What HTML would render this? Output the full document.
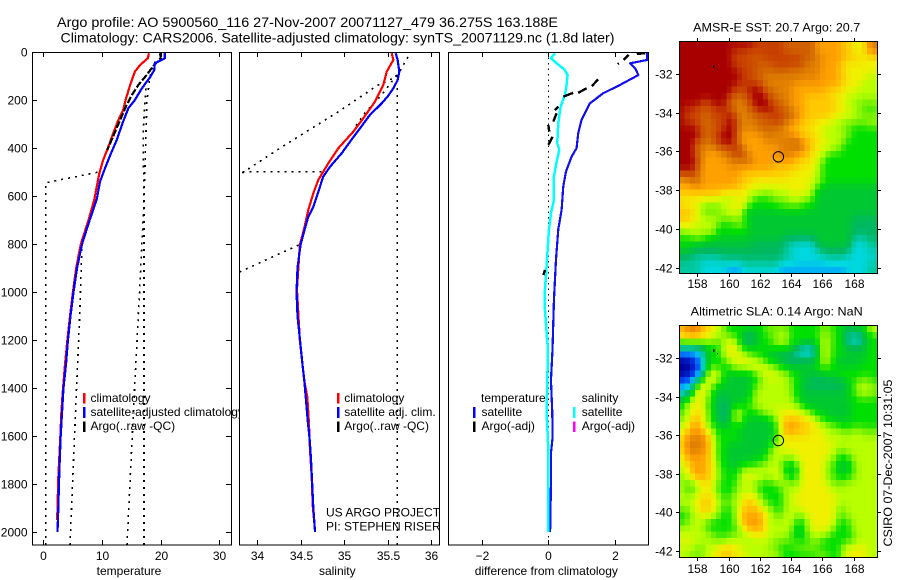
<!DOCTYPE html>
<html>
<head>
<meta charset="utf-8">
<title>Argo profile</title>
<style>
html,body{margin:0;padding:0;background:#fff;}
svg{display:block;}
text{font-family:"Liberation Sans",sans-serif;font-size:12px;fill:#000;}
.title{font-size:14px;}
</style>
</head>
<body>
<svg id="chart" xmlns="http://www.w3.org/2000/svg" width="900" height="580" viewBox="0 0 900 580">
<defs>
<clipPath id="clip-temp"><rect x="32" y="52" width="199.5" height="493"/></clipPath>
<clipPath id="clip-sal"><rect x="239.5" y="52" width="200.5" height="493"/></clipPath>
<clipPath id="clip-diff"><rect x="448.5" y="52" width="200" height="493"/></clipPath>
<clipPath id="clip-legend"><rect x="32" y="380" width="207" height="60"/></clipPath>
</defs>
<rect x="0" y="0" width="900" height="580" fill="#fff"/>
<text class="title" x="57" y="27" textLength="501" lengthAdjust="spacingAndGlyphs">Argo profile: AO 5900560_116 27-Nov-2007 20071127_479 36.275S 163.188E</text>
<text class="title" x="60.5" y="42.5" textLength="554" lengthAdjust="spacingAndGlyphs">Climatology: CARS2006. Satellite-adjusted climatology: synTS_20071129.nc (1.8d later)</text>
<g id="layer-temp" clip-path="url(#clip-temp)" shape-rendering="crispEdges"></g>
<g id="layer-sal" clip-path="url(#clip-sal)" shape-rendering="crispEdges"></g>
<g id="layer-diff" clip-path="url(#clip-diff)" shape-rendering="crispEdges"></g>
<g id="layer-sst" shape-rendering="crispEdges"></g>
<g id="layer-sla" shape-rendering="crispEdges"></g>
<g id="layer-axes" shape-rendering="crispEdges"></g>
<g id="layer-ticklabels"></g>

<rect x="32.5" y="52.5" width="199" height="492.5" fill="none" stroke="#000" shape-rendering="crispEdges"/>
<rect x="239.5" y="52.5" width="200" height="492.5" fill="none" stroke="#000" shape-rendering="crispEdges"/>
<rect x="448.5" y="52.5" width="200" height="492.5" fill="none" stroke="#000" shape-rendering="crispEdges"/>
<rect x="679.5" y="41.5" width="198" height="232" fill="none" stroke="#000" shape-rendering="crispEdges"/>
<rect x="679.5" y="325.5" width="198" height="232" fill="none" stroke="#000" shape-rendering="crispEdges"/>

<text x="129" y="575" text-anchor="middle">temperature</text>
<text x="337.3" y="575" text-anchor="middle">salinity</text>
<text x="546.3" y="575" text-anchor="middle">difference from climatology</text>

<g>
<rect x="83" y="393" width="2.5" height="10.5" fill="#f00"/>
<rect x="83" y="407" width="2.5" height="11" fill="#00f"/>
<rect x="83" y="421.5" width="2.5" height="10.5" fill="#000"/>
<g clip-path="url(#clip-legend)">
<text x="90.5" y="402">climatology</text>
<text x="90.5" y="416">satellite-adjusted climatology</text>
<text x="90.5" y="430">Argo(..raw -QC)</text>
</g>
</g>
<g>
<rect x="337" y="393" width="2.5" height="10.5" fill="#f00"/>
<rect x="337" y="407" width="2.5" height="11" fill="#00f"/>
<rect x="337" y="421.5" width="2.5" height="10.5" fill="#000"/>
<text x="344.3" y="402">climatology</text>
<text x="344.3" y="416">satellite adj. clim.</text>
<text x="344.3" y="430">Argo(..raw -QC)</text>
<text x="326" y="516.5">US ARGO PROJECT</text>
<text x="326" y="530.5">PI: STEPHEN RISER</text>
</g>
<g>
<text x="481" y="402">temperature</text>
<rect x="473" y="407" width="2.5" height="11" fill="#00f"/>
<text x="481.5" y="416">satellite</text>
<rect x="473" y="421.5" width="2.5" height="10.5" fill="#000"/>
<text x="481.5" y="430">Argo(-adj)</text>
<text x="581.7" y="402">salinity</text>
<rect x="573" y="407" width="2.5" height="11" fill="#0ff"/>
<text x="581.7" y="416">satellite</text>
<rect x="573" y="421.5" width="2.5" height="10.5" fill="#f0f"/>
<text x="581.7" y="430">Argo(-adj)</text>
</g>

<text x="776.7" y="31.5" text-anchor="middle" textLength="167" lengthAdjust="spacingAndGlyphs">AMSR-E SST: 20.7  Argo: 20.7</text>
<text x="776.7" y="315.5" text-anchor="middle" textLength="172" lengthAdjust="spacingAndGlyphs">Altimetric SLA: 0.14  Argo: NaN</text>
<text transform="translate(892,546.5) rotate(-90)" textLength="167" lengthAdjust="spacingAndGlyphs">CSIRO 07-Dec-2007 10:31:05</text>
<g id="layer-markers"></g>
</svg>

<script>
/* ---------- depth axis ---------- */
const depthTicks = [0,200,400,600,800,1000,1200,1400,1600,1800,2000];
const tempTicks = [0,10,20,30];
const salTicks = [34,34.5,35,35.5,36];
const diffTicks = [-2,0,2];
const lonTicks = [158,160,162,164,166,168];
const latTicks = [32,34,36,38,40,42];

/* ---------- temperature panel ---------- */
const tempClimDepth = [5,26,54,82,137,193,242,283,339,394,450,505,561,614,700,800,900,1000,1100,1200,1300,1436,1505,1603,1686,1770,1922,1950];
const tempClimValue = [18.0,17.8,16.5,15.6,14.8,14.1,13.6,12.8,11.9,11.1,10.2,9.55,9.1,8.7,7.7,6.4,5.6,5.05,4.55,4.1,3.7,3.25,3.07,2.9,2.73,2.56,2.39,2.36];
const tempSatDepth = [5,26,47,75,105,151,200,234,290,367,430,485,540,614,700,800,900,1000,1100,1200,1300,1400,1500,1600,1700,1800,1900,2000];
const tempSatValue = [20.7,20.7,19.0,18.9,18.2,16.8,15.6,14.5,13.6,12.5,11.4,10.5,9.66,9.1,7.9,6.6,5.75,5.15,4.63,4.2,3.87,3.44,3.2,2.96,2.8,2.67,2.56,2.42];
const tempArgoDepth = [5,26,54,105,137,179,220,317,380,408,null,950,1000];
const tempArgoValue = [19.9,20.0,18.9,17.3,16.2,15.1,14.2,12.5,11.4,10.9,null,5.4,5.1];
const tempEnvMinOuterDepth = [2054,545,499];
const tempEnvMinOuterValue = [0.4,0.4,9.66];
const tempEnvMinInnerDepth = [2054,1383,1100,800];
const tempEnvMinInnerValue = [4.55,5.69,6.2,6.6];
const tempEnvMaxInnerDepth = [2054,1367,1000,620,330,150];
const tempEnvMaxInnerValue = [14.26,15.62,16.4,17.15,17.0,17.5];
const tempEnvMaxOuterDepth = [2054,620,330,200,100,40];
const tempEnvMaxOuterValue = [17.15,17.15,17.5,17.67,18.2,19.0];

/* ---------- salinity panel ---------- */
const salClimDepth = [5,33,82,137,207,276,332,401,464,533,589,658,739,804,990,1200,1367,1437,1546,1658,1770,1887,1962];
const salClimValue = [35.548,35.567,35.491,35.452,35.356,35.221,35.106,34.933,34.818,34.703,34.645,34.588,34.538,34.49,34.457,34.49,34.54,34.576,34.595,34.607,34.627,34.638,34.657];
const salSatDepth = [5,33,82,117,151,182,214,262,318,374,422,478,519,582,645,686,739,804,900,1000,1100,1200,1300,1367,1450,1533,1617,1700,1783,1896,2000];
const salSatValue = [35.594,35.617,35.636,35.617,35.567,35.509,35.433,35.298,35.183,35.068,34.972,34.838,34.76,34.703,34.645,34.588,34.546,34.498,34.463,34.452,34.463,34.492,34.52,34.541,34.561,34.58,34.604,34.619,34.63,34.645,34.665];
const salEnvFlatDepth = [499,499];
const salEnvFlatValue = [33.827,34.745];
const salEnvDiagDepth = [504,401,249,137,103,5];
const salEnvDiagValue = [33.827,34.26,34.933,35.394,35.606,35.76];
const salEnvRightDepth = [2054,150];
const salEnvRightValue = [35.61,35.61];
const salEnvInnerDepth = [96,179,254,312];
const salEnvInnerValue = [35.606,35.433,35.241,35.126];
const salEnvLowerDepth = [917,796];
const salEnvLowerValue = [33.795,34.526];

/* ---------- difference panel ---------- */
const diffTempDepth = [5,33,47,68,96,137,172,214,242,283,339,401,436,499,561,658,739,867,1033,1242,1367,1504,1604,1671,1783,1979,2000];
const diffTempValue = [2.96,2.98,2.46,2.61,2.71,2.16,1.65,1.25,1.15,1.0,0.9,0.85,0.7,0.53,0.45,0.40,0.30,0.23,0.17,0.126,0.08,0.12,0.13,0.08,0.08,0.06,0.05];
const diffSalDepth = [5,26,47,75,96,137,179,228,297,380,408,457,519,617,672,739,867,992,1075,1242,1367,1504,1650,2000];
const diffSalValue = [0.2,0.08,0.25,0.5,0.58,0.55,0.5,0.37,0.3,0.27,0.33,0.25,0.17,0.17,0.08,0.02,-0.04,-0.1,-0.1,-0.01,-0.03,-0.05,0,0];
const diffArgoDepth = [5,8,null,12,33,null,47,50,null,114,142,null,151,170,null,170,186,null,228,242,null,255,290,null,304,332,null,353,387,null,908,929];
const diffArgoValue = [2.91,2.66,null,2.41,2.26,null,2.12,2.09,null,1.5,1.31,null,1.15,0.9,null,0.75,0.45,null,0.3,0.2,null,0.25,0.15,null,0,0.03,null,0.13,0,null,-0.1,-0.15];
const diffZeroDepth = [0,2054];
const diffZeroValue = [0,0];

/* ---------- map data: each row is level,count,level,count... ---------- */
const sstRuns = [
[16,14,15,6,14,6,12,5,11,2,10,3,13,2],
[16,10,15,10,14,6,12,5,11,2,10,3,13,2],
[16,10,15,3,14,3,15,7,14,3,13,2,12,4,11,3,10,3],
[16,10,15,5,14,3,15,6,13,3,12,4,10,7],
[16,11,15,3,14,7,13,6,12,3,11,2,10,6],
[16,12,15,2,14,2,13,6,14,1,13,4,12,4,11,1,10,4,9,2],
[16,11,15,5,13,6,12,8,11,2,10,3,9,3],
[16,10,15,3,16,3,14,2,13,3,12,7,11,3,10,3,9,4],
[16,10,14,3,15,1,16,3,14,2,13,3,12,2,11,5,10,3,9,6],
[16,4,15,2,16,3,14,1,13,3,15,1,16,3,15,1,14,2,13,1,12,3,11,6,10,2,9,2,8,4],
[16,1,15,3,14,2,15,3,16,1,13,3,14,1,15,1,16,3,15,1,14,2,13,1,12,2,11,6,10,2,9,2,8,2,7,1,8,1],
[16,1,15,3,14,2,15,4,16,1,13,3,14,3,15,3,14,2,13,1,12,1,11,5,10,4,9,2,8,3],
[16,1,15,3,13,1,14,2,15,2,16,2,13,4,14,3,15,2,13,2,12,1,11,3,10,3,9,2,8,5,9,2],
[16,4,14,3,15,2,16,2,13,4,14,3,13,2,12,1,11,3,10,3,9,4,8,2,7,5],
[16,4,14,3,15,1,16,3,13,1,12,4,13,6,12,1,11,3,10,2,9,4,8,1,7,5],
[16,3,15,1,14,1,13,1,15,1,16,4,12,5,13,6,14,1,12,1,11,2,10,2,9,3,8,1,7,6],
[16,3,13,3,12,1,14,2,15,3,13,1,12,6,13,3,14,2,12,1,11,1,10,3,9,2,7,7],
[16,3,14,1,13,1,12,3,13,2,15,2,14,1,12,6,13,3,12,1,11,2,10,2,9,1,7,10],
[16,3,15,1,12,5,13,3,14,2,12,8,11,3,10,2,8,1,7,10],
[16,3,15,1,12,6,13,1,12,7,11,5,10,3,9,1,7,11],
[15,3,13,1,12,8,11,9,10,5,9,1,7,11],
[12,2,14,2,12,7,11,3,10,11,9,2,8,1,7,10],
[12,3,13,1,12,7,11,2,10,12,9,1,8,1,6,11],
[11,8,10,5,9,3,8,2,9,3,10,4,8,1,6,12],
[10,8,9,3,10,2,9,1,7,3,8,4,9,2,8,3,6,12],
[11,1,10,3,8,4,9,1,10,4,7,6,8,5,7,2,6,12],
[11,3,10,1,8,4,9,2,10,2,6,26],
[11,2,10,2,9,4,8,5,6,20,5,5],
[10,3,9,4,7,3,8,3,6,20,5,5],
[8,1,9,6,7,6,6,20,5,5],
[7,3,9,1,7,2,6,14,5,6,6,7,4,3,5,2],
[7,2,6,12,5,6,4,2,3,4,5,1,6,6,3,3,4,2],
[6,3,5,17,4,1,3,5,4,1,5,6,3,3,4,2],
[5,2,4,6,5,12,4,2,3,6,4,4,3,6],
[4,4,3,8,4,7,3,17,4,2],
[4,4,3,5,2,3,3,7,2,13,3,4,4,2]
];
const slaRuns = [
[11,1,13,3,11,1,10,2,9,1,8,1,7,7,8,5,7,6,8,2,7,2,6,3,7,2,9,1,10,1],
[11,1,12,3,11,2,10,1,9,2,7,3,5,3,7,2,8,2,9,2,7,6,9,1,8,2,7,1,6,1,4,3,5,1,7,2],
[8,7,7,1,9,1,10,2,7,1,5,3,7,3,9,3,7,6,9,2,7,2,6,1,3,3,5,1,7,2],
[4,4,5,1,7,3,9,1,10,2,8,1,7,9,6,2,3,3,6,1,9,2,7,3,6,4,7,2],
[1,3,2,1,3,1,7,3,9,1,10,3,9,1,7,3,6,2,5,4,3,4,6,1,9,2,7,2,6,5,7,2],
[0,2,1,2,3,1,7,4,9,2,10,3,9,2,7,3,6,1,5,3,6,4,9,2,7,1,6,6,7,2],
[0,3,1,1,2,1,8,1,7,4,9,3,10,3,9,2,7,2,6,6,7,1,8,1,7,2,6,4,7,4],
[0,2,1,2,3,1,9,1,10,2,7,1,6,5,7,1,9,1,10,3,9,2,7,2,6,5,7,3,8,2,7,5],
[1,2,2,1,3,1,9,1,10,2,8,1,7,1,6,5,7,2,9,5,8,1,7,1,6,2,5,6,6,2,7,1,8,3,7,1],
[2,2,3,1,10,2,9,1,7,1,6,7,8,1,9,6,8,1,7,1,6,1,5,8,6,1,8,1,9,3,8,1],
[3,1,5,1,7,1,10,2,9,1,7,1,6,7,8,1,9,6,8,1,7,1,6,9,7,2,9,3,8,1],
[5,1,7,1,9,1,10,2,7,2,5,2,6,4,7,1,9,8,7,1,6,10,7,5],
[7,1,9,1,10,3,7,2,5,3,7,3,8,2,9,8,7,1,6,9,7,5],
[7,1,9,1,10,2,11,1,7,2,5,3,9,2,7,3,8,1,9,2,10,6,9,1,7,2,6,6,7,5],
[8,1,9,1,11,2,10,1,8,1,7,1,5,3,9,2,7,1,6,4,7,1,8,1,10,1,11,3,10,3,8,1,7,2,6,4,7,5],
[9,1,10,1,12,2,10,1,8,1,7,1,6,3,7,2,6,6,7,1,10,1,12,3,11,2,10,2,9,1,8,2,7,8],
[9,1,11,1,12,3,10,1,9,1,7,4,6,7,7,1,10,1,12,2,11,3,10,3,9,3,8,2,9,2,8,3],
[10,1,13,4,11,1,9,1,7,5,6,6,7,1,9,1,10,8,9,10],
[10,1,13,4,12,1,9,1,8,1,7,1,6,8,7,1,9,2,10,10,9,8],
[10,1,13,3,12,2,9,1,7,2,6,8,8,1,9,1,10,10,9,1,8,2,9,6],
[9,1,12,4,11,1,10,1,7,2,6,6,7,2,9,3,8,2,10,6,9,2,7,3,9,5],
[9,1,11,2,12,2,11,1,10,1,8,1,7,1,6,3,7,3,8,2,9,2,8,1,7,3,10,5,8,2,6,3,8,1,9,4],
[9,1,10,1,12,3,11,1,10,1,8,1,7,2,6,1,8,1,9,6,10,1,9,1,6,3,10,5,8,2,6,3,8,1,9,4],
[8,1,9,1,11,1,12,2,11,1,10,1,9,1,7,3,8,1,10,4,9,2,10,1,9,1,7,3,10,5,8,2,7,3,8,1,9,4],
[9,1,8,2,9,1,10,1,11,1,9,1,8,1,7,3,9,3,8,1,7,3,8,1,9,2,8,2,10,5,9,1,8,3,9,6],
[9,1,7,2,9,1,10,2,9,1,7,4,9,4,7,5,9,3,10,6,9,9],
[9,3,10,2,11,1,10,1,9,1,7,2,9,2,10,3,8,1,7,4,9,2,10,8,9,8],
[9,3,10,1,11,2,10,1,9,1,8,2,9,2,11,3,9,1,8,1,7,3,9,2,10,8,9,8],
[8,2,9,1,10,1,11,2,10,1,9,1,7,2,8,1,10,1,11,4,9,2,7,2,9,3,10,7,8,2,9,6],
[7,2,9,2,10,2,9,1,8,1,7,2,8,1,10,1,12,4,10,1,9,1,8,2,9,1,10,1,8,2,10,6,8,2,9,6],
[7,1,8,1,9,3,7,5,8,1,10,1,12,4,10,1,9,5,7,2,8,1,10,5,7,3,9,5],
[9,5,7,6,8,1,10,1,12,3,10,1,9,5,6,2,9,1,10,4,8,1,7,3,9,5],
[9,6,8,2,7,1,8,2,9,3,10,3,9,4,7,1,6,2,8,1,9,3,8,1,7,4,8,1,9,4],
[10,3,9,3,8,3,9,9,8,2,8,3,7,2,8,2,7,6,8,1,9,4],
[9,3,8,2,9,1,10,2,11,2,10,2,9,5,8,2,7,3,8,2,9,1,8,2,7,4,9,1,10,4,9,2],
[9,2,8,2,9,2,10,2,11,2,10,3,9,6,8,1,7,6,8,3,7,2,9,1,10,4,9,2]
];
const levelColors = ['#0000a0','#0040f0','#00a0ff','#00d8e0','#00c8a0','#00b860','#00c830','#00e000','#70f000','#b8ff00','#f0f000','#ffc800','#ffa000','#e08000','#d06000','#c84000','#a80000'];
const profileLon = [163.188];
const profileLat = [36.275];

/* ---------- axis functions ---------- */
const yDepth = d => 52 + d * 0.24;
const xTemp = t => 43.3 + t * 5.87;
const xSal = s => 257.3 + (s - 34) * 86.8;
const xDiff = v => 548.3 + v * 33.25;
const xLon = lon => 697.3 + (lon - 158) * 15.63;
const ySst = lat => 74 + (lat - 32) * 19.37;
const ySla = lat => 358 + (lat - 32) * 19.3;

const NS = 'http://www.w3.org/2000/svg';
function mk(tag, attrs, parent){
  const el = document.createElementNS(NS, tag);
  for (const k in attrs) el.setAttribute(k, attrs[k]);
  parent.appendChild(el);
  return el;
}
function pathFrom(depths, values, xFn){
  let d = '', pen = false;
  for (let i = 0; i < depths.length; i++){
    if (depths[i] === null || values[i] === null){ pen = false; continue; }
    d += (pen ? 'L' : 'M') + xFn(values[i]).toFixed(2) + ' ' + yDepth(depths[i]).toFixed(2);
    pen = true;
  }
  return d;
}
function drawSeries(parent, name, depths, values, xFn, color, width, dash){
  const p = mk('path', {d: pathFrom(depths, values, xFn), fill: 'none', stroke: color, 'stroke-width': width, 'stroke-dasharray': dash || 'none', 'stroke-linejoin': 'round'}, parent);
  
  
}
const DOT = '2 5';
const lt = document.getElementById('layer-temp');
drawSeries(lt, 'temp-envelope-min-outer', tempEnvMinOuterDepth, tempEnvMinOuterValue, xTemp, '#000', 1.6, DOT);
drawSeries(lt, 'temp-envelope-min-inner', tempEnvMinInnerDepth, tempEnvMinInnerValue, xTemp, '#000', 1.6, DOT);
drawSeries(lt, 'temp-envelope-max-inner', tempEnvMaxInnerDepth, tempEnvMaxInnerValue, xTemp, '#000', 1.6, DOT);
drawSeries(lt, 'temp-envelope-max-outer', tempEnvMaxOuterDepth, tempEnvMaxOuterValue, xTemp, '#000', 1.6, DOT);
drawSeries(lt, 'temp-climatology-line', tempClimDepth, tempClimValue, xTemp, '#f00', 2.2);
drawSeries(lt, 'temp-argo-line', tempArgoDepth, tempArgoValue, xTemp, '#000', 2.2, '7 2');
drawSeries(lt, 'temp-satellite-line', tempSatDepth, tempSatValue, xTemp, '#00f', 2.2);

const ls = document.getElementById('layer-sal');
drawSeries(ls, 'sal-envelope-flat', salEnvFlatDepth, salEnvFlatValue, xSal, '#000', 1.6, DOT);
drawSeries(ls, 'sal-envelope-diagonal', salEnvDiagDepth, salEnvDiagValue, xSal, '#000', 1.6, DOT);
drawSeries(ls, 'sal-envelope-right', salEnvRightDepth, salEnvRightValue, xSal, '#000', 1.6, DOT);
drawSeries(ls, 'sal-envelope-inner', salEnvInnerDepth, salEnvInnerValue, xSal, '#000', 1.6, DOT);
drawSeries(ls, 'sal-envelope-lower', salEnvLowerDepth, salEnvLowerValue, xSal, '#000', 1.6, DOT);
drawSeries(ls, 'sal-climatology-line', salClimDepth, salClimValue, xSal, '#f00', 2.2);
drawSeries(ls, 'sal-satellite-line', salSatDepth, salSatValue, xSal, '#00f', 2.2);

const ld = document.getElementById('layer-diff');
drawSeries(ld, 'diff-zero-line', diffZeroDepth, diffZeroValue, xDiff, '#000', 1, '1.5 4');
drawSeries(ld, 'diff-temp-satellite-line', diffTempDepth, diffTempValue, xDiff, '#1010f0', 2.2);
drawSeries(ld, 'diff-sal-satellite-line', diffSalDepth, diffSalValue, xDiff, '#0ff', 2.5);
drawSeries(ld, 'diff-temp-argo-line', diffArgoDepth, diffArgoValue, xDiff, '#000', 2.4);

/* ---------- heatmaps ---------- */
const CELL_W = 198 / 38, CELL_H = 232 / 36;
function expandRow(runs){
  const out = [];
  for (let i = 0; i + 1 < runs.length; i += 2){
    for (let n = 0; n < runs[i + 1]; n++) out.push(runs[i]);
  }
  return out;
}
function softenGrid(grid){
  const weights = [1, 2, 1];
  return grid.map((row, r) => row.map((_, c) => {
    let sum = 0, total = 0;
    for (let dr = -1; dr <= 1; dr++){
      for (let dc = -1; dc <= 1; dc++){
        const rr = grid[r + dr];
        if (!rr || rr[c + dc] === undefined) continue;
        const w = weights[dr + 1] * weights[dc + 1];
        sum += rr[c + dc] * w;
        total += w;
      }
    }
    return sum / total;
  }));
}
function hexToRgb(h){
  return [parseInt(h.slice(1,3),16), parseInt(h.slice(3,5),16), parseInt(h.slice(5,7),16)];
}
function levelColor(v){
  const top = levelColors.length - 1;
  const t = Math.max(0, Math.min(top, v));
  const i = Math.min(top - 1, Math.floor(t));
  const f = t - i;
  const a = hexToRgb(levelColors[i]), b = hexToRgb(levelColors[i + 1]);
  return 'rgb(' + a.map((x, k) => Math.round(x + (b[k] - x) * f)).join(',') + ')';
}
function drawMap(parent, name, rows, top){
  softenGrid(rows.map(expandRow)).forEach((row, r) => {
    row.forEach((v, c) => {
      const cell = mk('rect', {x: (679.5 + c * CELL_W).toFixed(2), y: (top + r * CELL_H).toFixed(2), width: (CELL_W + 0.5).toFixed(2), height: (CELL_H + 0.5).toFixed(2), fill: levelColor(v)}, parent);
      
      
    });
  });
}
drawMap(document.getElementById('layer-sst'), 'sst-cell', sstRuns, 41.5);
drawMap(document.getElementById('layer-sla'), 'sla-cell', slaRuns, 325.5);

/* ---------- ticks and labels ---------- */
const la = document.getElementById('layer-axes');
const ll = document.getElementById('layer-ticklabels');
function tick(x1, y1, x2, y2){
  const t = mk('line', {x1: x1, y1: y1, x2: x2, y2: y2, stroke: '#000'}, la);
  
  
}
function label(str, x, y, anchor){
  const t = mk('text', {x: x, y: y, 'text-anchor': anchor}, ll);
  t.textContent = str;
  
  
}
depthTicks.forEach(d => {
  const y = Math.round(yDepth(d)) + 0.5;
  tick(32, y, 37, y);
  tick(226, y, 231, y);
  label(String(d), 27.5, y + 4, 'end');
});
function xAxis(ticks, fn){
  ticks.forEach(v => {
    const x = Math.round(fn(v)) + 0.5;
    tick(x, 52, x, 57);
    tick(x, 540, x, 545);
    label(String(v).replace('-', '\u2212'), x, 560, 'middle');
  });
}
xAxis(tempTicks, xTemp);
xAxis(salTicks, xSal);
xAxis(diffTicks, xDiff);
function mapAxes(yFn, top, bottom, labelY){
  lonTicks.forEach(lon => {
    const x = Math.round(xLon(lon)) + 0.5;
    tick(x, top - 3, x, top);
    tick(x, bottom, x, bottom + 3);
    label(String(lon), x, labelY, 'middle');
  });
  latTicks.forEach(lat => {
    const y = Math.round(yFn(lat)) + 0.5;
    tick(676, y, 679, y);
    tick(878, y, 881, y);
    label('-' + lat, 672.5, y + 4, 'end');
  });
}
mapAxes(ySst, 41, 274, 288);
mapAxes(ySla, 325, 558, 573);

/* ---------- float position markers ---------- */
const lm = document.getElementById('layer-markers');
[ySst, ySla].forEach(yFn => {
  const c = mk('circle', {cx: xLon(profileLon[0]).toFixed(2), cy: yFn(profileLat[0]).toFixed(2), r: 5.2, fill: 'none', stroke: '#000', 'stroke-width': 1}, lm);
  
  
  const a = mk('rect', {x: 713, y: yFn(31.55).toFixed(1), width: 1.5, height: 2.5, fill: '#000'}, lm);
  
  
  const b = mk('rect', {x: 717, y: yFn(31.75).toFixed(1), width: 1, height: 1, fill: '#000'}, lm);
  
  
});
</script>
</body>
</html>
